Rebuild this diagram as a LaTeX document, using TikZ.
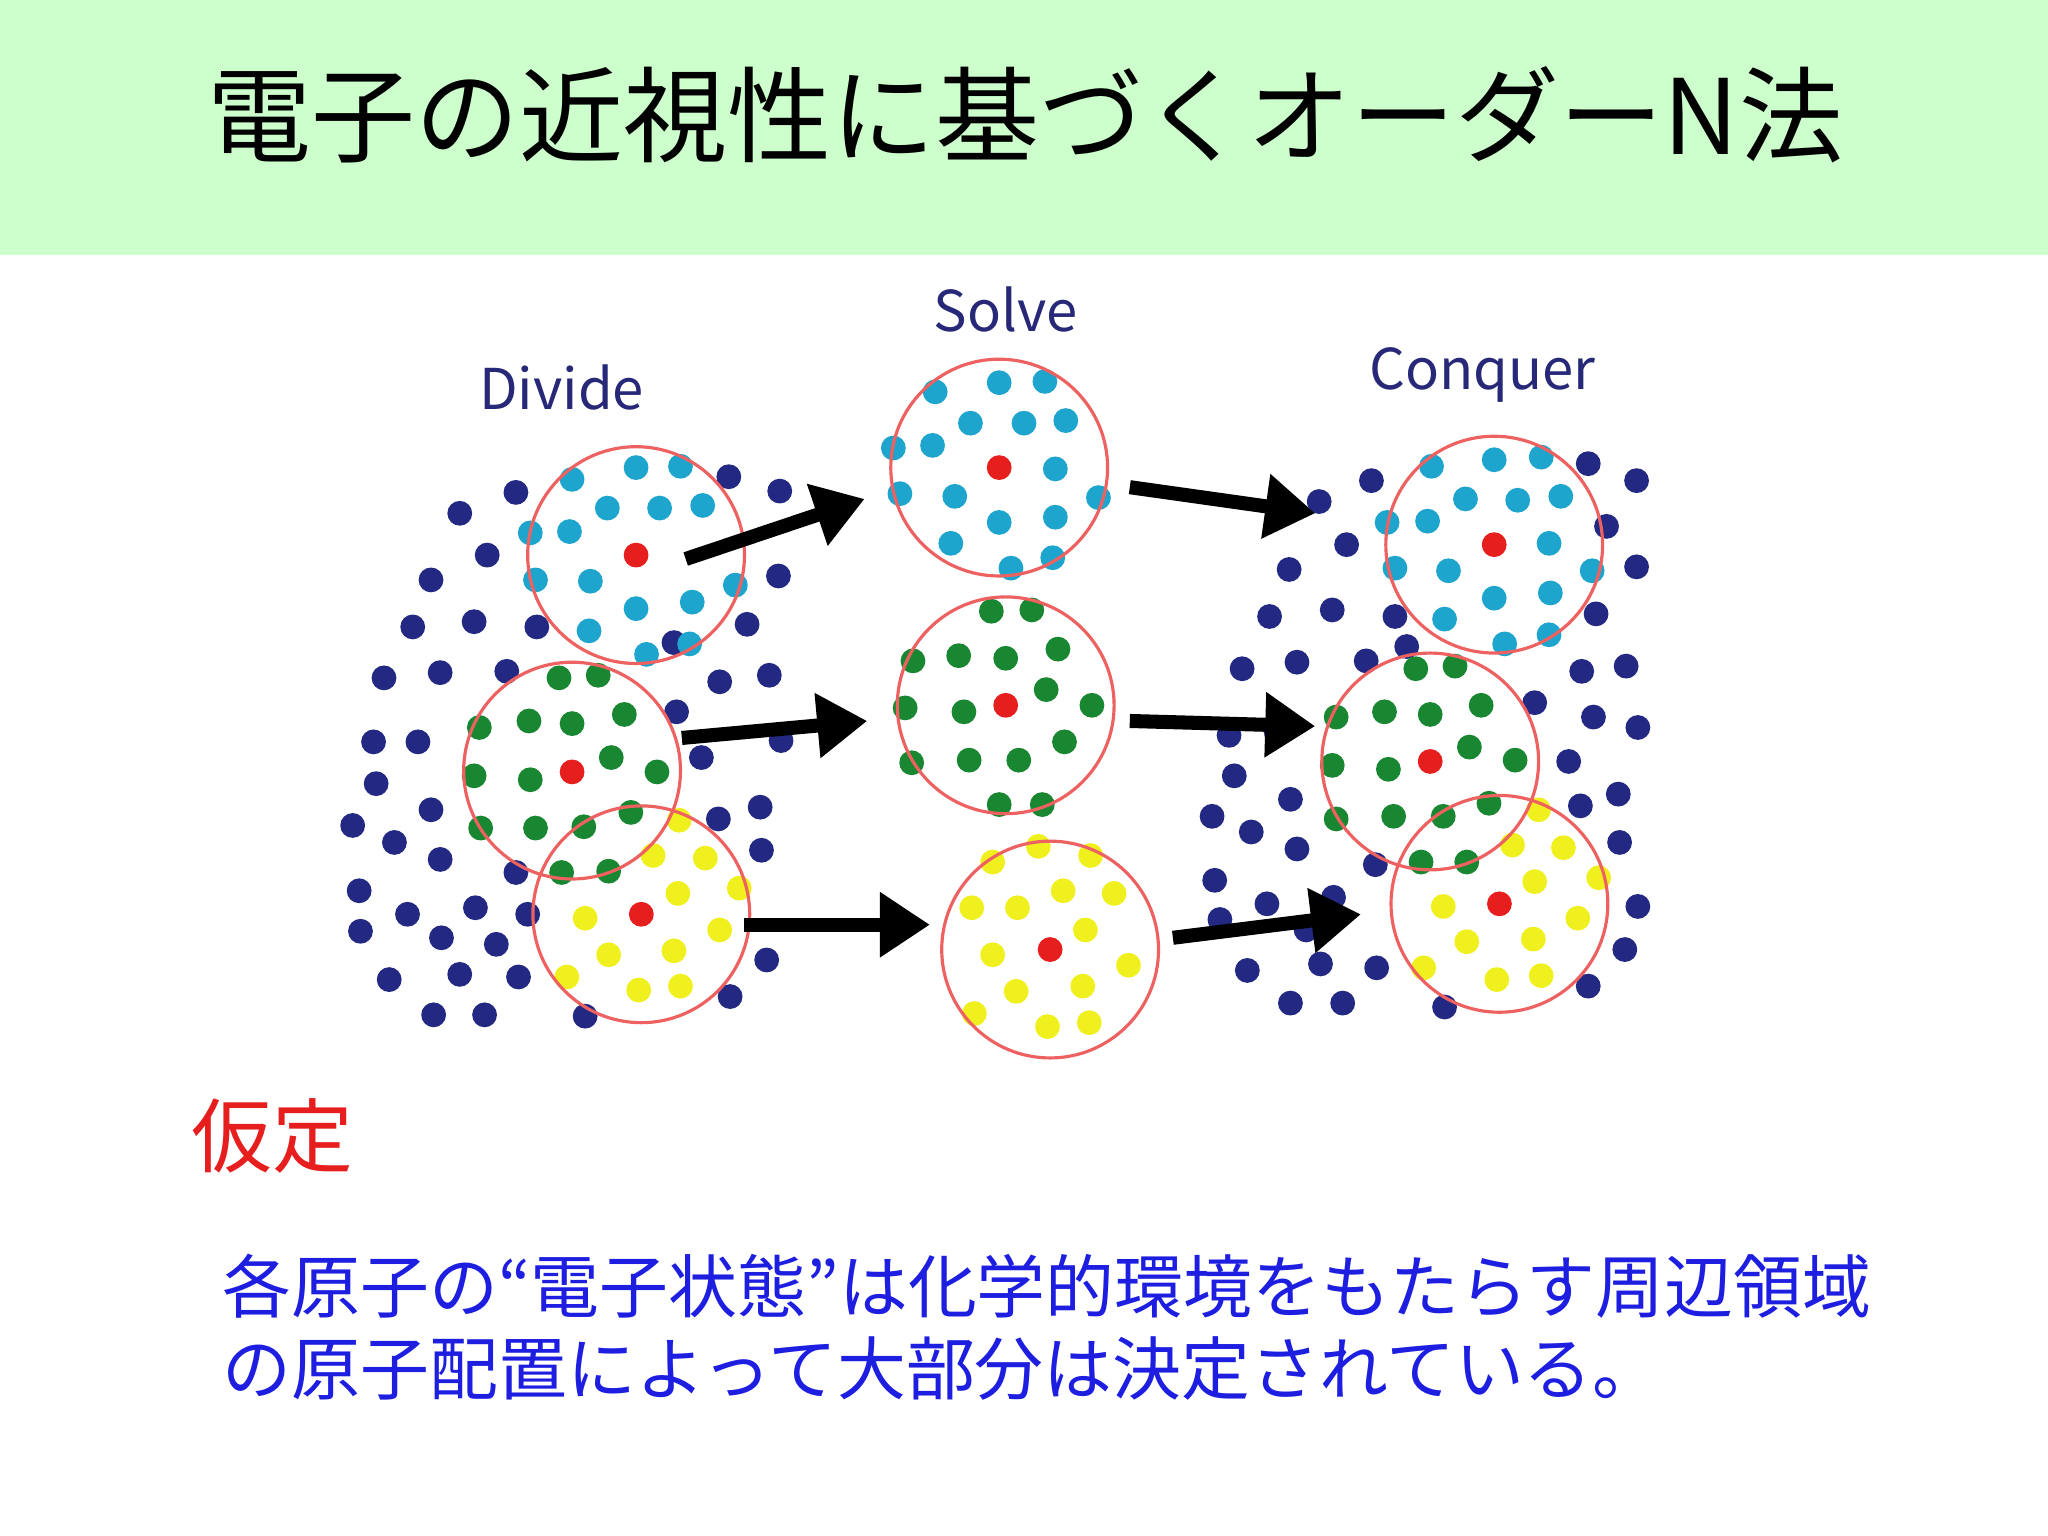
\documentclass[tikz,border=0pt]{standalone}
\usepackage{fontspec}
\setmainfont{Noto Sans CJK JP}
\usetikzlibrary{arrows.meta}
\definecolor{navy}{RGB}{35,40,130}
\definecolor{cy}{RGB}{30,165,205}
\definecolor{gr}{RGB}{25,135,50}
\definecolor{ye}{RGB}{240,240,30}
\definecolor{rd}{RGB}{230,30,30}
\definecolor{band}{RGB}{204,255,204}
\definecolor{lbl}{RGB}{40,40,120}
\definecolor{bl}{RGB}{30,30,225}
\tikzset{ring/.style={draw=rd!70,line width=0.9pt},
 bigarrow/.style={line width=4pt,-{Triangle[length=0.5cm,width=0.62cm]}},
 lab/.style={text=lbl,font=\fontsize{16}{18}\selectfont},
 bodytext/.style={text=bl,anchor=west,inner sep=0pt,font=\fontsize{19.6}{22}\selectfont}}
\newcommand{\mydots}[2]{\foreach \a/\b in {#2} \fill[#1] (\a,\b) circle[radius=0.124cm];}
\begin{document}
\begin{tikzpicture}[x=0.013061cm,y=-0.013061cm]
\useasboundingbox (0,0) rectangle (1568,1176);
\fill[white] (0,0) rectangle (1568,1176);
\fill[band] (0,0) rectangle (1568,195);
\node (title) at (785,88) {\fontsize{29.6}{32}\selectfont 電子の近視性に基づくオーダーN法};
\node[lab] (div) at (430,297) {Divide};
\node[lab] (sol) at (770,237) {Solve};
\node[lab] (con) at (1135,287) {Conquer};
% divide
\mydots{navy}{352/393,395/377,373/425,330/444,316/480,363/476,411/480,294/519,337/515,286/568,320/568,288/600,270/632,302/645,330/620,337/658,275/682,276/713,312/700,338/718,364/695,380/723,298/750,332/777,352/746,371/777,397/748,404/700,395/668,448/778,558/365,597/376,596/441,572/478,551/522,589/517,518/545,537/580,598/567,582/618,583/651,550/627,587/735,559/763,388/514,516/492}
\mydots{cy}{438/367,487/358,521/357,406/408,436/407,465/389,505/389,538/387,410/444,452/445,487/466,530/461,563/448,451/483,495/501,528/493}
\mydots{gr}{428/519,458/517,367/557,405/552,438/554,478/547,363/594,406/597,468/580,503/591,368/634,410/634,447/633,483/622,430/668,466/667}
\mydots{ye}{500/655,540/657,520/628,448/703,519/684,566/680,466/731,516/728,551/712,434/748,489/758,521/755}
\mydots{rd}{487/425,438/591,491/700}
\draw[ring] (487,425) circle[radius=1.084cm];
\draw[ring] (438,590) circle[radius=1.084cm];
\draw[ring] (491,700) circle[radius=1.084cm];
% solve
\mydots{cy}{716/300,765/293,800/292,684/343,714/341,743/324,784/324,816/322,689/378,731/380,765/400,808/359,841/381,728/416,774/435,806/427,808/396}
\mydots{gr}{759/468,790/467,699/506,734/502,770/504,810/497,693/542,738/545,801/528,836/540,698/584,742/582,780/582,815/568,765/616,798/616}
\mydots{ye}{760/660,795/648,835/655,744/695,779/695,814/682,853/684,760/731,831/712,864/739,778/759,829/755,746/776,802/786,834/783}
\mydots{rd}{765/358,770/540,804/727}
\draw[ring] (765,358) circle[radius=1.084cm];
\draw[ring] (770,540) circle[radius=1.084cm];
\draw[ring] (804,727) circle[radius=1.084cm];
% conquer
\mydots{navy}{1010/384,1050/368,1031/417,987/436,972/472,1020/467,1068/472,951/512,993/507,1046/506,941/563,977/560,945/594,928/625,958/637,988/612,993/650,930/674,934/704,970/692,1000/712,1021/687,1053/662,955/743,988/768,1028/768,1011/738,1054/741,1106/771,1216/355,1253/368,1230/403,1253/434,1222/470,1211/514,1245/510,1175/538,1220/549,1254/557,1201/583,1210/617,1239/608,1240/645,1254/694,1244/727,1216/755,1077/495}
\mydots{cy}{1096/357,1144/352,1180/350,1062/400,1093/399,1122/382,1162/383,1195/380,1068/435,1109/437,1144/458,1186/416,1219/437,1106/474,1152/493,1186/486,1187/454}
\mydots{gr}{1084/512,1114/510,1023/549,1060/545,1095/547,1134/540,1020/586,1063/589,1125/572,1160/582,1023/627,1067/625,1105/625,1140/615,1088/660,1123/660}
\mydots{ye}{1158/647,1197/649,1178/620,1105/694,1175/675,1224/672,1123/721,1174/719,1208/703,1090/741,1146/750,1180/747}
\mydots{rd}{1144/417,1095/583,1148/692}
\draw[ring] (1144,417) circle[radius=1.084cm];
\draw[ring] (1095,583) circle[radius=1.084cm];
\draw[ring] (1148,692) circle[radius=1.084cm];
% arrows
\coordinate (a1) at (525,428); \coordinate (b1) at (662,382);
\coordinate (a2) at (522,565); \coordinate (b2) at (664,552);
\coordinate (a3) at (570,708); \coordinate (b3) at (712,708);
\coordinate (c1) at (865,373); \coordinate (d1) at (1007,393);
\coordinate (c2) at (865,552); \coordinate (d2) at (1007,556);
\coordinate (c3) at (898,718); \coordinate (d3) at (1042,700);
\foreach \s/\t in {a1/b1,a2/b2,a3/b3,c1/d1,c2/d2,c3/d3} \draw[bigarrow] (\s) -- (\t);
\node[text=rd,anchor=west,inner sep=0pt] (kt) at (146,870) {\fontsize{23}{26}\selectfont 仮定};
\node[bodytext] (body1) at (170,985) {各原子の“電子状態”は化学的環境をもたらす周辺領域};
\node[bodytext] (body2) at (170,1048) {の原子配置によって大部分は決定されている。};
\end{tikzpicture}
\end{document}
